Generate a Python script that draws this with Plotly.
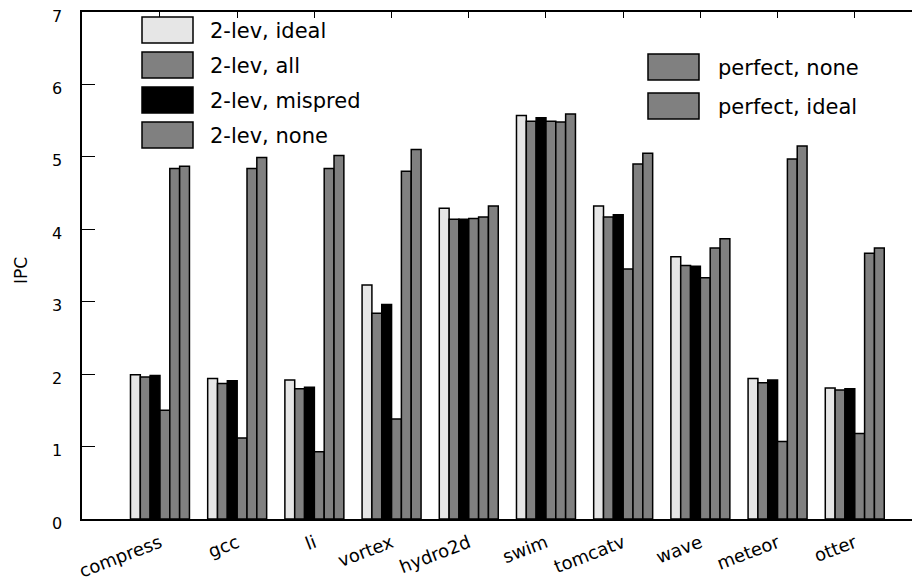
import plotly.graph_objects as go

categories = ["compress", "gcc", "li", "vortex", "hydro2d", "swim", "tomcatv", "wave", "meteor", "otter"]
series_names = ["2-lev, ideal", "2-lev, all", "2-lev, mispred", "2-lev, none", "perfect, none", "perfect, ideal"]
lev2_ideal   = [1.99, 1.94, 1.92, 3.23, 4.29, 5.57, 4.32, 3.62, 1.94, 1.81]
lev2_all     = [1.96, 1.87, 1.80, 2.84, 4.14, 5.49, 4.17, 3.50, 1.88, 1.78]
lev2_mispred = [1.98, 1.91, 1.82, 2.96, 4.14, 5.54, 4.20, 3.49, 1.92, 1.80]
lev2_none    = [1.50, 1.12, 0.93, 1.38, 4.15, 5.49, 3.45, 3.33, 1.07, 1.18]
perf_none    = [4.84, 4.84, 4.84, 4.80, 4.17, 5.48, 4.90, 3.74, 4.97, 3.67]
perf_ideal   = [4.87, 4.99, 5.02, 5.10, 4.32, 5.59, 5.05, 3.87, 5.15, 3.74]
y_ticks = [0, 1, 2, 3, 4, 5, 6, 7]

series_values = [lev2_ideal, lev2_all, lev2_mispred, lev2_none, perf_none, perf_ideal]
colors = ["#e6e6e6", "#808080", "#000000", "#808080", "#808080", "#808080"]

FONT = "DejaVu Sans"
fig = go.Figure()
xs = list(range(len(categories)))
for name, vals, col in zip(series_names, series_values, colors):
    fig.add_trace(go.Bar(x=xs, y=vals, name=name, marker=dict(color=col, line=dict(color="black", width=1.5)),
                         showlegend=False))

# page body has an 8px margin, so the figure sits at (8, 8) in the window
OFF = 8
W, H = 920 - OFF, 582 - OFF
ml, mr, mt, mb = 82 - OFF, 0, 12 - OFF, 63
pw, ph = W - ml - mr, H - mt - mb

fig.update_layout(
    width=W, height=H, margin=dict(l=ml, r=mr, t=mt, b=mb),
    paper_bgcolor="white", plot_bgcolor="white",
    barmode="group", bargap=0.236, bargroupgap=0,
    font=dict(family=FONT, color="black"),
)
fig.update_xaxes(range=[-1.01, -1.01 + pw / 77.2], tickvals=xs, ticktext=categories, tickangle=-21,
                 showline=True, linecolor="black", linewidth=1.5, mirror="ticks",
                 ticks="inside", ticklen=6, tickwidth=1.2, tickcolor="black",
                 tickfont=dict(size=18, family=FONT), showgrid=False, zeroline=False,
                 ticklabelstandoff=5, layer="below traces", automargin=False, ticklabeloverflow="allow")
fig.update_yaxes(range=[0, 7], tickvals=y_ticks, showline=True, linecolor="black", linewidth=1.5,
                 ticks="inside", ticklen=13, tickwidth=1.2, tickcolor="black",
                 showticklabels=False, showgrid=False, zeroline=False,
                 layer="below traces", automargin=False)

# y tick labels (sit a few px below their ticks, as in the reference)
for v in y_ticks:
    fig.add_annotation(text=str(v), xref="paper", yref="y", x=0, y=v, xshift=-18, yshift=-4,
                       xanchor="right", yanchor="middle", showarrow=False, font=dict(size=16, family=FONT))

# right-edge tick stubs
for v in y_ticks[1:-1]:
    fig.add_shape(type="line", xref="paper", yref="y", x0=1 - 2.5 / pw, x1=1.0, y0=v, y1=v,
                  line=dict(color="black", width=1.2))

def px(x):
    return (x - OFF - ml) / pw

def py(y):
    return (mt + ph - (y - OFF)) / ph

# y title
fig.add_annotation(text="IPC", xref="paper", yref="paper", x=px(21), y=py(271),
                   textangle=-90, showarrow=False, font=dict(size=17, family=FONT), xanchor="center", yanchor="middle")

# custom legend (two blocks)
left_rows = [30, 65, 100, 135]
right_rows = [67, 106]
legend_items = [(142, 193, 208, r, i) for r, i in zip(left_rows, range(4))] + \
               [(648, 699, 716, r, i) for r, i in zip(right_rows, range(4, 6))]
for x0, x1, tx, yc, i in legend_items:
    fig.add_shape(type="rect", xref="paper", yref="paper", x0=px(x0), x1=px(x1), y0=py(yc + 13), y1=py(yc - 13),
                  fillcolor=colors[i], line=dict(color="black", width=1.5))
    fig.add_annotation(text=series_names[i], xref="paper", yref="paper", x=px(tx), y=py(yc + 1),
                       xanchor="left", yanchor="middle", showarrow=False, font=dict(size=21, family=FONT))

fig.write_html("out.html")
